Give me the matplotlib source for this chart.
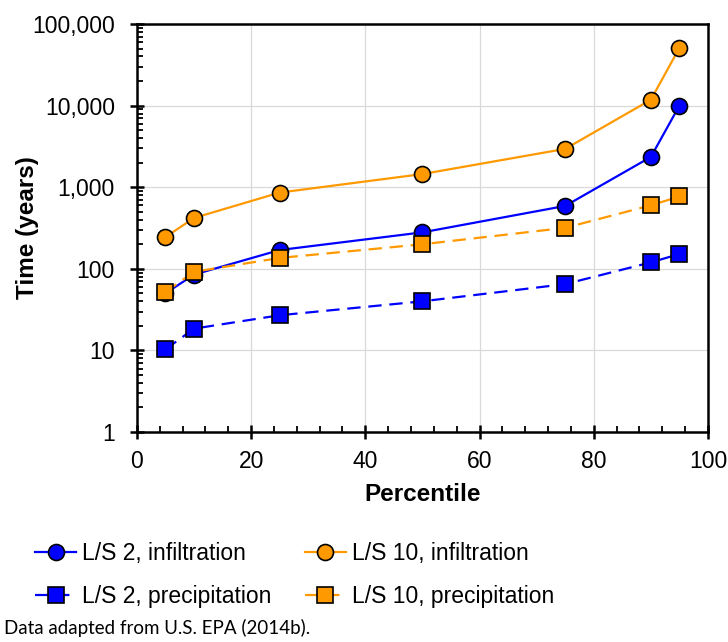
import matplotlib
matplotlib.use("Agg")
import matplotlib.pyplot as plt
from matplotlib.ticker import FixedLocator, LogLocator, FuncFormatter, NullFormatter

plt.rcParams['font.family'] = ['Liberation Sans', 'DejaVu Sans']

percentile = [5, 10, 25, 50, 75, 90, 95]
ls2_infil = [50, 85, 170, 280, 590, 2350, 10000]
ls10_infil = [245, 420, 860, 1450, 2950, 11800, 51000]
ls2_precip = [10.3, 18.5, 27, 40, 65, 120, 152]
ls10_precip = [52, 92, 136, 200, 318, 600, 770]
labels = ["L/S 2, infiltration", "L/S 10, infiltration",
          "L/S 2, precipitation", "L/S 10, precipitation"]

BLUE = "#0000FF"
ORANGE = "#FF9900"

fig = plt.figure(figsize=(7.28, 6.42), dpi=100)
ax = fig.add_axes([0.188, 0.327, 0.7845, 0.6356])

dash = (0, (6, 3.5))
h1, = ax.plot(percentile, ls2_infil, color=BLUE, lw=1.6, marker='o', ms=11.5,
              mfc=BLUE, mec='black', mew=1.2, label=labels[0])
h2, = ax.plot(percentile, ls10_infil, color=ORANGE, lw=1.6, marker='o', ms=11.5,
              mfc=ORANGE, mec='black', mew=1.2, label=labels[1])
h3, = ax.plot(percentile, ls2_precip, color=BLUE, lw=1.6, ls=dash, marker='s', ms=11,
              mfc=BLUE, mec='black', mew=1.2, label=labels[2])
h4, = ax.plot(percentile, ls10_precip, color=ORANGE, lw=1.6, ls=dash, marker='s', ms=11,
              mfc=ORANGE, mec='black', mew=1.2, label=labels[3])

ax.set_yscale('log')
ax.set_ylim(1, 100000)
ax.set_xlim(0, 100)
ax.xaxis.set_major_locator(FixedLocator([0, 20, 40, 60, 80, 100]))
ax.xaxis.set_minor_locator(FixedLocator([v for v in range(0, 101, 4) if v % 20 != 0]))
ax.yaxis.set_major_locator(LogLocator(base=10, numticks=10))
ax.yaxis.set_minor_locator(LogLocator(base=10, subs=range(2, 10), numticks=10))
ax.yaxis.set_major_formatter(FuncFormatter(lambda v, p: f"{v:,.0f}"))
ax.yaxis.set_minor_formatter(NullFormatter())

ax.grid(True, which='major', color='#d9d9d9', lw=0.9)
ax.set_axisbelow(True)
for s in ax.spines.values():
    s.set_linewidth(1.8)
ax.tick_params(which='major', direction='inout', length=9.5, width=1.8, labelsize=16.5)
ax.tick_params(axis='y', which='major', pad=11)
ax.tick_params(axis='x', which='major', pad=8)
ax.tick_params(which='minor', direction='in', length=4.5, width=1.3)

ax.set_xlabel("Percentile", fontsize=17.5, fontweight='bold', va='top')
ax.set_ylabel("Time (years)", fontsize=17.5, fontweight='bold')
ax.xaxis.set_label_coords(0.5, -0.125)
ax.yaxis.set_label_coords(-0.172, 0.5)

fig.legend(handles=[h1, h3, h2, h4], labels=[labels[0], labels[2], labels[1], labels[3]],
           ncol=2, loc='upper left',
           bbox_to_anchor=(0.048, 0.156), bbox_transform=fig.transFigure,
           frameon=False, fontsize=16.5, handlelength=1.8, handletextpad=0.25,
           columnspacing=1.45, labelspacing=0.9, borderaxespad=0, borderpad=0)

fig.text(0.005, 0.008, "Data adapted from U.S. EPA (2014b).", fontsize=13.5,
         family=['Lato', 'DejaVu Sans'], ha='left', va='bottom')

fig.savefig("out.png", dpi=100)
